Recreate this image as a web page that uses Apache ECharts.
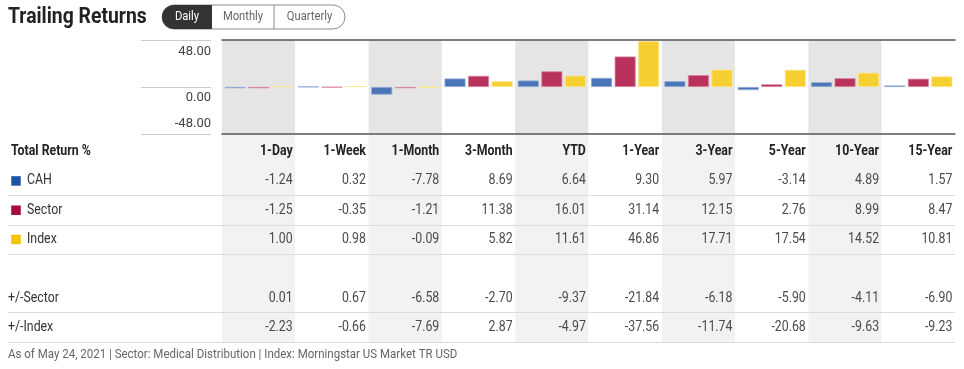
<!DOCTYPE html>
<html>
<head>
<meta charset="utf-8">
<script src="https://cdn.jsdelivr.net/npm/echarts@6/dist/echarts.min.js"></script>
<style>
html,body{margin:0;padding:0;background:#fff;}
#chart{width:964px;height:369px;}
</style>
</head>
<body>
<div id="chart"></div>
<script>
// ---- data ----
const periods = ['1-Day','1-Week','1-Month','3-Month','YTD','1-Year','3-Year','5-Year','10-Year','15-Year'];
const cah     = [-1.24, 0.32, -7.78, 8.69, 6.64, 9.30, 5.97, -3.14, 4.89, 1.57];
const sector  = [-1.25, -0.35, -1.21, 11.38, 16.01, 31.14, 12.15, 2.76, 8.99, 8.47];
const index   = [1.00, 0.98, -0.09, 5.82, 11.61, 46.86, 17.71, 17.54, 14.52, 10.81];
const vsSector = [0.01, 0.67, -6.58, -2.70, -9.37, -21.84, -6.18, -5.90, -4.11, -6.90];
const vsIndex  = [-2.23, -0.66, -7.69, 2.87, -4.97, -37.56, -11.74, -20.68, -9.63, -9.23];
const yTicks = [-48, 0, 48];
const rowNames = ['Total Return %','CAH','Sector','Index','','+/-Sector','+/-Index'];
const titleText = 'Trailing Returns';
const buttons = ['Daily','Monthly','Quarterly'];
const footerText = 'As of May 24, 2021 | Sector: Medical Distribution | Index: Morningstar US Market TR USD';

// ---- styles ----
const FONT = 'Roboto, "Noto Sans", sans-serif';
const SX = 0.88;
const barColors = ['#4a76b8','#b8325b','#f6cf30'];
const barBorders = ['#8eaad6','#d9849d','#fbe48a'];
const legendColors = ['#1f52a3','#a50b3b','#f5c400'];

const chart = echarts.init(document.getElementById('chart'), null, {renderer:'canvas'});

// table cells
const rowData = {1: cah, 2: sector, 3: index, 5: vsSector, 6: vsIndex};
const cellPos = [], cellText = [], cellBold = [];
periods.forEach((p, c) => { cellPos.push([c, 0]); cellText.push(p); cellBold.push(true); });
Object.keys(rowData).forEach(r => {
  rowData[r].forEach((v, c) => { cellPos.push([c, +r]); cellText.push(v.toFixed(2)); cellBold.push(false); });
});

// row labels
const labPos = [], labText = [], labOff = [], labBold = [];
rowNames.forEach((n, r) => {
  if (!n) return;
  labPos.push([0, r]); labText.push(n);
  labOff.push(r === 0 ? 3 : (r <= 3 ? 19 : 0));
  labBold.push(r === 0);
});
const squareData = [1,2,3].map((r,i) => ({value:[0, r], itemStyle:{color: legendColors[i], opacity:1}}));

const splitRows = (idx) => [2,3,4,6,7].indexOf(idx) >= 0;

const option = {
  animation: false,
  textStyle: {fontFamily: FONT},
  grid: [
    {left: 222, width: 733, top: 40, height: 94},
    {left: 141, width: 70, top: 40, height: 94},
    {left: 222, width: 733, top: 134, height: 208},
    {left: 222, width: 733, top: 137, height: 205},
    {left: 8, width: 214, top: 137, height: 205}
  ],
  xAxis: [
    {gridIndex:0, type:'category', data: periods, position:'bottom',
      axisLine:{onZero:false, lineStyle:{color:'#555', width:1.5}}, axisTick:{show:false}, axisLabel:{show:false},
      splitArea:{show:true, areaStyle:{color:['#e5e5e5','#ffffff']}}},
    {gridIndex:0, type:'category', data: periods, position:'top',
      axisLine:{onZero:false, lineStyle:{color:'#555', width:1.5}}, axisTick:{show:false}, axisLabel:{show:false}},
    {gridIndex:1, type:'value', show:false, min:0, max:1},
    {gridIndex:2, type:'category', data: periods, axisLine:{show:false}, axisTick:{show:false}, axisLabel:{show:false},
      splitArea:{show:true, areaStyle:{color:['#f2f2f2','#ffffff']}}, z:0},
    {gridIndex:3, type:'category', data: periods, show:false},
    {gridIndex:4, type:'value', min:0, max:1, show:false}
  ],
  yAxis: [
    {gridIndex:0, type:'value', min:yTicks[0], max:yTicks[2], interval:48, show:false},
    {gridIndex:1, type:'value', min:yTicks[0], max:yTicks[2], interval:48, position:'right',
      axisLine:{show:false}, axisTick:{show:false},
      splitLine:{show:true, lineStyle:{color:'#cccccc', width:1}},
      axisLabel:{inside:true, margin:0, fontSize:13, color:'#444', fontFamily: FONT,
        formatter: v => v > 0 ? '{t|' + v.toFixed(2) + '}' : (v < 0 ? '{b|' + v.toFixed(2) + '}' : '{m|' + v.toFixed(2) + '}'),
        rich:{
          t:{padding:[24,0,0,0], fontSize:13, color:'#444', fontFamily: FONT},
          m:{padding:[22,0,0,0], fontSize:13, color:'#444', fontFamily: FONT},
          b:{padding:[0,0,20,0], fontSize:13, color:'#444', fontFamily: FONT}
        }}},
    {gridIndex:2, type:'value', min:0, max:1, show:false},
    {gridIndex:3, type:'category', data: rowNames, inverse:true, z:3,
      axisLine:{show:false}, axisTick:{show:false}, axisLabel:{show:false},
      splitLine:{show:true, interval: splitRows, lineStyle:{color:'#dcdcdc', width:1}}},
    {gridIndex:4, type:'category', data: rowNames, inverse:true, z:3,
      axisLine:{show:false}, axisTick:{show:false}, axisLabel:{show:false},
      splitLine:{show:true, interval: splitRows, lineStyle:{color:'#dcdcdc', width:1}}}
  ],
  series: [
    ...[cah, sector, index].map((d, i) => ({
      type:'bar', xAxisIndex:0, yAxisIndex:0, data:d, barWidth:21, barGap:'12%',
      itemStyle:{color:barColors[i], borderColor:barBorders[i], borderWidth:0.8},
      silent:true
    })),
    {type:'custom', xAxisIndex:4, yAxisIndex:3, data: cellPos, silent:true, z:5,
      renderItem: (params, api) => {
        const pt = api.coord([api.value(0), api.value(1)]);
        const i = params.dataIndex;
        return {type:'text', x: pt[0] + 34, y: pt[1], scaleX: SX,
          style:{text: cellText[i], align:'right', verticalAlign:'middle',
            font: (cellBold[i] ? 'bold ' : '') + '14px ' + FONT, fill: cellBold[i] ? '#222' : '#4a4a4a'}};
      }},
    {type:'custom', xAxisIndex:5, yAxisIndex:4, data: labPos, silent:true, z:5,
      renderItem: (params, api) => {
        const pt = api.coord([api.value(0), api.value(1)]);
        const i = params.dataIndex;
        return {type:'text', x: pt[0] + labOff[i], y: pt[1], scaleX: SX,
          style:{text: labText[i], align:'left', verticalAlign:'middle',
            font: (labBold[i] ? 'bold ' : '') + '14px ' + FONT, fill: labBold[i] ? '#222' : '#333'}};
      }},
    {type:'scatter', xAxisIndex:5, yAxisIndex:4, data: squareData, symbol:'rect', symbolSize:9.5,
      symbolOffset:[8,0], silent:true, itemStyle:{opacity:1}}
  ],
  graphic: [
    {type:'text', x:8, y:17, scaleX:0.88, style:{text:titleText, font:'bold 22px ' + FONT, fill:'#222', verticalAlign:'middle'}},
    {type:'group', x:162, y:5, children:[
      {type:'rect', shape:{x:0, y:0, width:183, height:24, r:12}, style:{fill:'#fff', stroke:'#8a8a8a', lineWidth:1}},
      {type:'rect', shape:{x:0, y:0, width:50, height:24, r:[12,0,0,12]}, style:{fill:'#333'}},
      {type:'line', shape:{x1:112, y1:0, x2:112, y2:24}, style:{stroke:'#8a8a8a', lineWidth:1}},
      {type:'text', x:25, y:12, scaleX:0.86, style:{text:buttons[0], font:'13px ' + FONT, fill:'#fff', align:'center', verticalAlign:'middle'}},
      {type:'text', x:81, y:12, scaleX:0.86, style:{text:buttons[1], font:'13px ' + FONT, fill:'#666', align:'center', verticalAlign:'middle'}},
      {type:'text', x:147.5, y:12, scaleX:0.86, style:{text:buttons[2], font:'13px ' + FONT, fill:'#666', align:'center', verticalAlign:'middle'}}
    ]},
    {type:'text', x:8, y:355, scaleX:0.885, style:{text:footerText, font:'13px ' + FONT, fill:'#666', verticalAlign:'middle'}}
  ]
};
chart.setOption(option);
</script>
</body>
</html>
